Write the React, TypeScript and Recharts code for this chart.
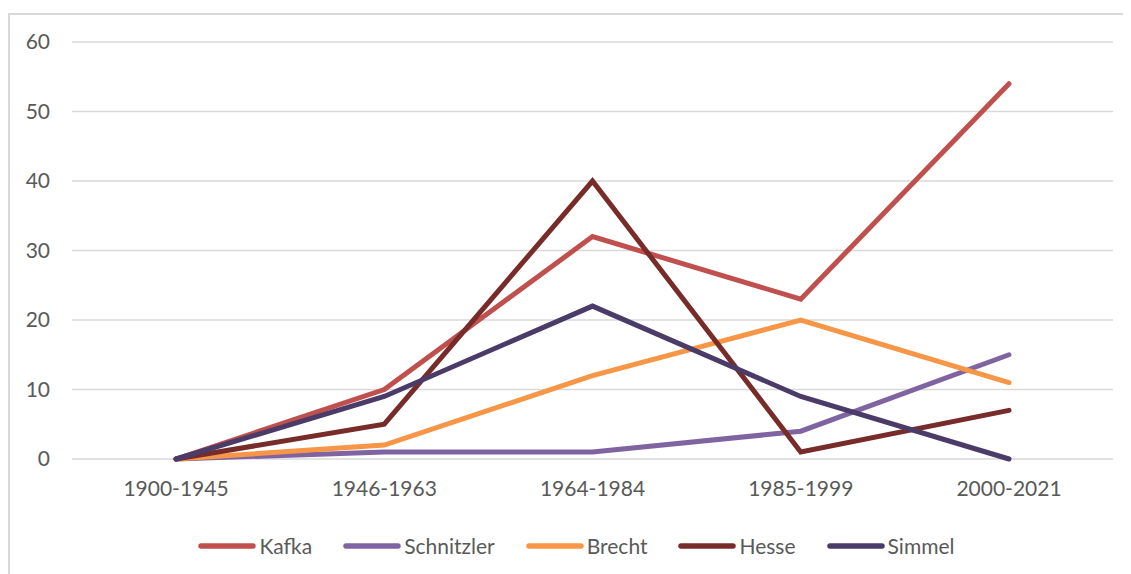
import React from 'react';
import { LineChart, Line, XAxis, YAxis, CartesianGrid, Legend } from 'recharts';

const categories = ['1900-1945', '1946-1963', '1964-1984', '1985-1999', '2000-2021'];
const kafka = [0, 10, 32, 23, 54];
const schnitzler = [0, 1, 1, 4, 15];
const brecht = [0, 2, 12, 20, 11];
const hesse = [0, 5, 40, 1, 7];
const simmel = [0, 9, 22, 9, 0];
const yTicks = [0, 10, 20, 30, 40, 50, 60];

const series = [
  { key: 'Kafka', values: kafka, color: '#C0504D' },
  { key: 'Schnitzler', values: schnitzler, color: '#8064A2' },
  { key: 'Brecht', values: brecht, color: '#F79646' },
  { key: 'Hesse', values: hesse, color: '#772C2A' },
  { key: 'Simmel', values: simmel, color: '#4A3B68' },
];

const data = categories.map((c, i) => {
  const row: Record<string, any> = { cat: c };
  series.forEach((s) => (row[s.key] = s.values[i]));
  return row;
});

const FONT = "Lato, 'Open Sans', sans-serif";

const LegendContent = () => {
  return (
    <div style={{ display: 'flex', justifyContent: 'center', alignItems: 'center', fontFamily: FONT, fontSize: 21, color: '#595959', paddingLeft: 30 }}>
      {series.map((p, i) => (
        <div key={p.key} style={{ display: 'flex', alignItems: 'center', marginRight: i < series.length - 1 ? 31 : 0 }}>
          <svg width={58} height={10} style={{ display: 'block' }}>
            <line x1={3} y1={5} x2={55} y2={5} stroke={p.color} strokeWidth={5.5} strokeLinecap="round" />
          </svg>
          <span style={{ marginLeft: 3 }}>{p.key}</span>
        </div>
      ))}
    </div>
  );
};

export default function App() {
  return (
    <div style={{ marginTop: 5, width: 1123, height: 561, borderTop: '2px solid #d9d9d9', borderLeft: '2px solid #d9d9d9', boxSizing: 'border-box', overflow: 'hidden' }}>
      <LineChart width={1121} height={559} data={data} margin={{ top: 27, right: 18, left: 0, bottom: 20 }}>
        <CartesianGrid vertical={false} stroke="#d9d9d9" strokeWidth={1.5} />
        <XAxis
          dataKey="cat"
          axisLine={false}
          tickLine={false}
          tickSize={0}
          tickMargin={22}
          height={70}
          padding={{ left: 104, right: 104 }}
          tick={{ fill: '#595959', fontSize: 21, fontFamily: FONT }}
        />
        <YAxis
          domain={[0, 60]}
          ticks={yTicks}
          axisLine={false}
          tickLine={false}
          tickSize={0}
          tickMargin={22}
          width={62}
          tick={{ fill: '#595959', fontSize: 21, fontFamily: FONT }}
        />
        <Legend verticalAlign="bottom" content={<LegendContent />} wrapperStyle={{ bottom: 16 }} />
        {series.map((s) => (
          <Line
            key={s.key}
            dataKey={s.key}
            name={s.key}
            stroke={s.color}
            strokeWidth={5}
            strokeLinecap="round"
            strokeLinejoin="miter"
            dot={false}
            activeDot={false}
            isAnimationActive={false}
          />
        ))}
      </LineChart>
    </div>
  );
}
